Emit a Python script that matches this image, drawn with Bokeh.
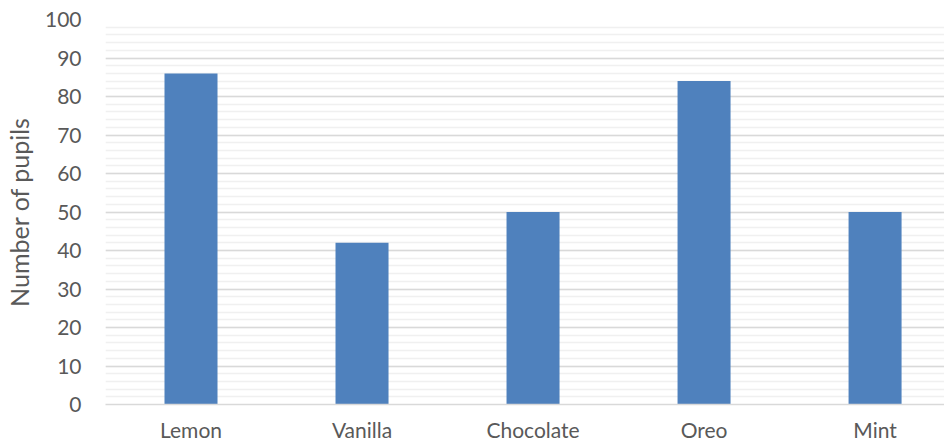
from bokeh.plotting import figure
from bokeh.models import Range1d, SingleIntervalTicker, FixedTicker, ColumnDataSource
from bokeh.embed import file_html
from bokeh.resources import INLINE

categories = ["Lemon", "Vanilla", "Chocolate", "Oreo", "Mint"]
pupils = [86, 42, 50, 84, 50]
y_ticks = [0, 10, 20, 30, 40, 50, 60, 70, 80, 90, 100]

xs = list(range(len(categories)))
src = ColumnDataSource(dict(x=xs, top=pupils, name=categories))

p = figure(width=944, height=444, output_backend="svg", toolbar_location=None,
           x_range=Range1d(-0.5, 4.406), y_range=Range1d(0, 100),
           min_border_left=105, min_border_right=0, min_border_top=19, min_border_bottom=40)
p.outline_line_color = None
p.background_fill_color = "white"
p.border_fill_color = "white"

p.vbar(x="x", top="top", width=0.31, source=src, fill_color="#4f81bd", line_color=None)

font = "Lato"
p.yaxis.ticker = SingleIntervalTicker(interval=10, num_minor_ticks=5)
p.yaxis.axis_line_color = None
p.yaxis.major_tick_line_color = None
p.yaxis.minor_tick_line_color = None
p.yaxis.major_label_text_font = font
p.yaxis.major_label_text_font_size = "21px"
p.yaxis.major_label_text_color = "#595959"
p.yaxis.major_label_standoff = 18
p.yaxis.axis_label = "Number of pupils"
p.yaxis.axis_label_text_font = font
p.yaxis.axis_label_text_font_size = "25px"
p.yaxis.axis_label_text_font_style = "normal"
p.yaxis.axis_label_text_color = "#595959"
p.yaxis.axis_label_standoff = 8

p.xaxis.ticker = FixedTicker(ticks=xs)
p.xaxis.major_label_overrides = {i: c for i, c in enumerate(categories)}
p.xaxis.axis_line_color = "#d9d9d9"
p.xaxis.axis_line_width = 1.5
p.xaxis.major_tick_line_color = None
p.xaxis.minor_tick_line_color = None
p.xaxis.major_label_text_font = font
p.xaxis.major_label_text_font_size = "21px"
p.xaxis.major_label_text_color = "#595959"
p.xaxis.major_label_text_line_height = 0.7
p.xaxis.major_label_standoff = 6

p.xgrid.grid_line_color = None
p.ygrid.grid_line_color = "#d9d9d9"
p.ygrid.grid_line_width = 1.5
p.ygrid.minor_grid_line_color = "#f0f0f0"
p.ygrid.minor_grid_line_width = 1.5

open("out.html", "w").write(file_html(p, INLINE))
